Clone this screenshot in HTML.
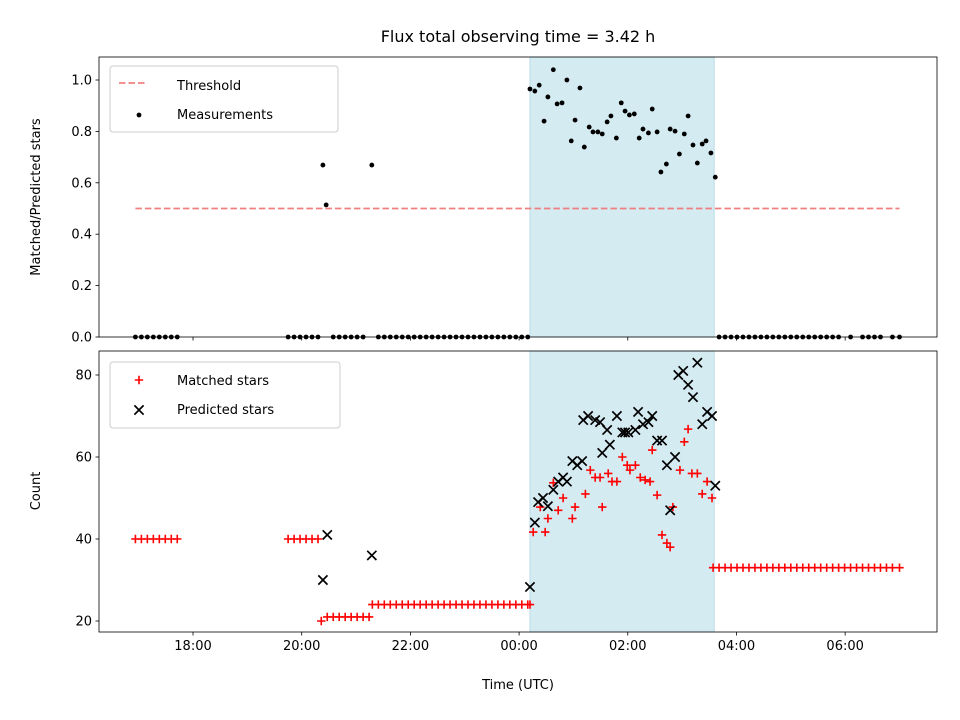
<!DOCTYPE html>
<html><head><meta charset="utf-8"><style>
body{margin:0;background:#fff;}
svg{display:block;font-family:"DejaVu Sans","Liberation Sans",sans-serif;}
</style></head><body>
<svg id="chart" width="960" height="720" viewBox="0 0 960 720" xmlns="http://www.w3.org/2000/svg">
<rect width="960" height="720" fill="#fff"/>
<text x="518" y="42" font-size="16" text-anchor="middle">Flux total observing time = 3.42 h</text>
<g id="topPanel"></g>
<g id="botPanel"></g>
<text x="518" y="689" font-size="13" text-anchor="middle">Time (UTC)</text>
<text transform="translate(40,197) rotate(-90)" font-size="13" text-anchor="middle">Matched/Predicted stars</text>
<text transform="translate(40,491) rotate(-90)" font-size="13" text-anchor="middle">Count</text>
</svg>
<script>
const xTicks = [18,20,22,24,26,28,30];
const xTickLabels = ["18:00","20:00","22:00","00:00","02:00","04:00","06:00"];
const topTicks = [0,0.2,0.4,0.6,0.8,1.0];
const topTickLabels = ["0.0","0.2","0.4","0.6","0.8","1.0"];
const botTicks = [20,40,60,80];
const botTickLabels = ["20","40","60","80"];
const shadeStart = 24.2, shadeEnd = 27.59;
const thresholdValue = 0.5, thresholdStart = 16.94, thresholdEnd = 31.0;

const measTimes = [24.20,24.29,24.37,24.46,24.53,24.63,24.70,24.79,24.88,24.96,25.03,25.12,25.20,25.29,25.36,25.45,25.53,25.62,25.69,25.79,25.88,25.95,26.03,26.12,26.21,26.28,26.38,26.45,26.54,26.61,26.71,26.78,26.87,26.95,27.04,27.11,27.20,27.28,27.37,27.44,27.53,27.61,20.39,20.45,21.29];
const measRatios = [0.965,0.957,0.98,0.84,0.934,1.04,0.907,0.911,1.0,0.763,0.844,0.969,0.739,0.817,0.798,0.798,0.790,0.837,0.860,0.774,0.911,0.879,0.864,0.868,0.774,0.809,0.794,0.887,0.798,0.642,0.673,0.809,0.801,0.712,0.79,0.86,0.747,0.677,0.751,0.763,0.716,0.622,0.669,0.514,0.669];
const zeroTimes = [16.94,17.05,17.16,17.27,17.38,17.49,17.60,17.71,19.75,19.86,19.97,20.08,20.19,20.30,20.58,20.69,20.80,20.91,21.02,21.13,21.41,21.52,21.63,21.74,21.85,21.96,22.07,22.18,22.29,22.40,22.51,22.62,22.73,22.84,22.95,23.06,23.17,23.28,23.39,23.50,23.61,23.72,23.83,23.94,24.05,24.16,27.68,27.79,27.90,28.01,28.12,28.23,28.34,28.45,28.56,28.67,28.78,28.89,29.00,29.11,29.22,29.33,29.44,29.55,29.66,29.77,29.88,30.10,30.32,30.43,30.54,30.65,30.87,31.00];
const zeroRatios = zeroTimes.map(() => 0);

const matchedTimes = [16.94,17.05,17.16,17.27,17.38,17.49,17.60,17.71,19.75,19.86,19.97,20.08,20.19,20.30,20.36,20.47,20.58,20.69,20.80,20.91,21.02,21.13,21.24,21.30,21.41,21.52,21.63,21.74,21.85,21.96,22.07,22.18,22.29,22.40,22.51,22.62,22.73,22.84,22.95,23.06,23.17,23.28,23.39,23.50,23.61,23.72,23.83,23.94,24.05,24.16,24.20,24.26,24.48,24.39,24.53,24.63,24.72,24.81,24.98,25.03,25.22,25.31,25.40,25.49,25.53,25.64,25.71,25.80,25.90,25.99,26.04,26.14,26.23,26.32,26.41,26.45,26.54,26.63,26.72,26.78,26.83,26.96,27.04,27.11,27.18,27.28,27.37,27.46,27.55,27.57,27.68,27.79,27.90,28.01,28.12,28.23,28.34,28.45,28.56,28.67,28.78,28.89,29.00,29.11,29.22,29.33,29.44,29.55,29.66,29.77,29.88,29.99,30.10,30.21,30.32,30.43,30.54,30.65,30.76,30.87,31.00];
const matchedCounts = [40,40,40,40,40,40,40,40,40,40,40,40,40,40,20,21,21,21,21,21,21,21,21,24,24,24,24,24,24,24,24,24,24,24,24,24,24,24,24,24,24,24,24,24,24,24,24,24,24,24,24,41.7,41.7,47.8,45,53.7,47,50,45,47.8,51,56.8,55,55,47.8,56,54,54,60,58,56.8,58,55,54.4,54,61.7,50.7,41,39,38,47.8,56.8,63.7,66.8,56,56,51,54,50,33,33,33,33,33,33,33,33,33,33,33,33,33,33,33,33,33,33,33,33,33,33,33,33,33,33,33,33,33,33,33,33];
const predictedTimes = [20.39,20.47,21.29,24.20,24.29,24.35,24.44,24.53,24.63,24.72,24.81,24.88,24.98,25.07,25.16,25.18,25.27,25.40,25.49,25.62,25.53,25.67,25.80,25.90,25.95,26.01,26.14,26.19,26.28,26.38,26.45,26.54,26.63,26.72,26.87,26.78,26.93,27.02,27.11,27.20,27.28,27.37,27.46,27.55,27.61];
const predictedCounts = [30,41,36,28.3,44,49,50,48,52,54,55,54,59,58,59,69,70,69,68.5,66.6,61,63,70,66,66,66,66.6,71,68,68.5,70,64,64,58,60,47,80,81,77.6,74.6,83,68,71,70,53];

const NS = "http://www.w3.org/2000/svg";
const L = 99, R = 937;
const xMin = 16.27, xMax = 31.69;
const xS = h => L + (h - xMin) / (xMax - xMin) * (R - L);
const topT = 57, topB = 337, botT = 351, botB = 632;
const yTop = v => 337 - v * 257;
const yBot = v => 621 - (v - 20) * 4.1;
function mk(tag, attrs, parent, text){
  const e = document.createElementNS(NS, tag);
  for (const k in attrs) e.setAttribute(k, attrs[k]);
  if (text !== undefined) e.textContent = text;
  parent.appendChild(e); return e;
}
function axes(g, t, b, ticks, labels, yf, showX, name){
  const s = mk('rect', {x:xS(shadeStart), y:t, width:xS(shadeEnd)-xS(shadeStart), height:b-t, fill:'#d5ebf2', stroke:'#b9dce8', 'stroke-width':1}, g);
  
  
  ticks.forEach((v, i) => {
    const y = yf(v);
    mk('line', {x1:L-3.5, x2:L, y1:y, y2:y, stroke:'#000', 'stroke-width':0.8}, g);
    const tx = mk('text', {x:L-7, y:y+4.5, 'font-size':13, 'text-anchor':'end'}, g, labels[i]);
    
    
  });
  xTicks.forEach((h, i) => {
    const x = xS(h);
    mk('line', {x1:x, x2:x, y1:b, y2:b+3.5, stroke:'#000', 'stroke-width':0.8}, g);
    if (showX) {
      const tx = mk('text', {x:x, y:b+18, 'font-size':13, 'text-anchor':'middle'}, g, xTickLabels[i]);
      
      
    }
  });
}
const topG = document.getElementById('topPanel');


axes(topG, topT, topB, topTicks, topTickLabels, yTop, false, 'top');
const th = mk('line', {x1:xS(thresholdStart), x2:xS(thresholdEnd), y1:yTop(thresholdValue), y2:yTop(thresholdValue), stroke:'#f08080', 'stroke-width':1.8, 'stroke-dasharray':'6.5,3'}, topG);


zeroTimes.forEach((h, i) => {
  const c = mk('circle', {cx:xS(h), cy:yTop(zeroRatios[i]), r:2.4, fill:'#000'}, topG);
  
  
});
measTimes.forEach((h, i) => {
  const c = mk('circle', {cx:xS(h), cy:yTop(measRatios[i]), r:2.4, fill:'#000'}, topG);
  
  
});
mk('rect', {x:L, y:topT, width:R-L, height:topB-topT, fill:'none', stroke:'#000', 'stroke-width':0.8}, topG);
const lg1 = mk('g', {}, topG);


mk('rect', {x:110, y:66, width:228, height:66, rx:3, fill:'#fff', 'fill-opacity':0.8, stroke:'#ccc'}, lg1);
mk('line', {x1:119, x2:147, y1:83, y2:83, stroke:'#f08080', 'stroke-width':1.8, 'stroke-dasharray':'6.5,3'}, lg1);
mk('text', {x:177, y:90, 'font-size':13}, lg1, 'Threshold');
mk('circle', {cx:139, cy:115, r:2.4, fill:'#000'}, lg1);
mk('text', {x:177, y:119, 'font-size':13}, lg1, 'Measurements');

const botG = document.getElementById('botPanel');


axes(botG, botT, botB, botTicks, botTickLabels, yBot, true, 'bottom');
function plus(g, x, y){
  mk('path', {d:`M${x-4.2},${y}H${x+4.2}M${x},${y-4.2}V${y+4.2}`, stroke:'#f00', 'stroke-width':1.6, fill:'none'}, g);
}
function cross(g, x, y){
  mk('path', {d:`M${x-4.6},${y-4.6}L${x+4.6},${y+4.6}M${x-4.6},${y+4.6}L${x+4.6},${y-4.6}`, stroke:'#000', 'stroke-width':1.7, fill:'none'}, g);
}
const mg = mk('g', {}, botG);


matchedTimes.forEach((h, i) => plus(mg, xS(h), yBot(matchedCounts[i])));
const pg = mk('g', {}, botG);


predictedTimes.forEach((h, i) => cross(pg, xS(h), yBot(predictedCounts[i])));
mk('rect', {x:L, y:botT, width:R-L, height:botB-botT, fill:'none', stroke:'#000', 'stroke-width':0.8}, botG);
const lg2 = mk('g', {}, botG);


mk('rect', {x:110, y:362, width:230, height:66, rx:3, fill:'#fff', 'fill-opacity':0.8, stroke:'#ccc'}, lg2);
plus(lg2, 139, 380);
mk('text', {x:177, y:385, 'font-size':13}, lg2, 'Matched stars');
cross(lg2, 139, 410);
mk('text', {x:177, y:414, 'font-size':13}, lg2, 'Predicted stars');
</script>
</body></html>
